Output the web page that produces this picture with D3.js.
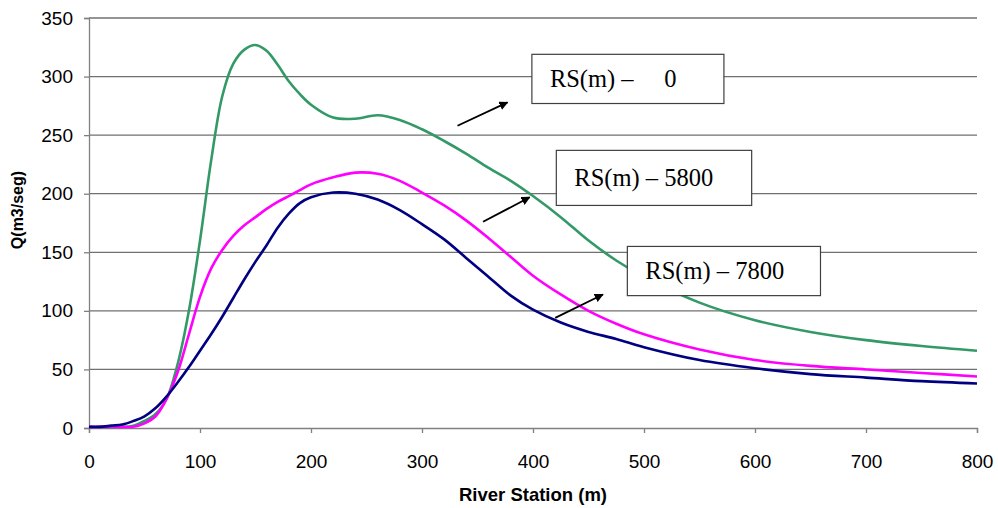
<!DOCTYPE html>
<html>
<head>
<meta charset="utf-8">
<script src="https://cdn.jsdelivr.net/npm/d3@7"></script>
<style>
  body { margin: 0; background: #fff; }
  svg { display: block; }
  .tick text { font-family: Arial, "Liberation Sans", sans-serif; font-size: 19px; fill: #000; }
</style>
</head>
<body>
<svg id="chart" width="998" height="508"></svg>
<script>
// River station (m) sampled along the hydrograph
const stations = [0, 10, 20, 30, 40, 50, 60, 70, 80, 90, 100, 110, 120, 130, 140, 150, 160, 170, 180, 190,
  200, 220, 240, 260, 280, 300, 320, 340, 360, 380, 400, 425, 450, 475, 500, 550, 600, 650, 700, 750, 800];

// Q (m3/seg) for each cross-section
const rs0 = [1, 1, 1, 1, 2, 6, 12, 25, 55, 100, 160, 228, 283, 311, 323, 327, 322, 310, 296, 285,
  276, 265, 264, 267, 263, 255, 245, 234, 222, 211, 198, 180, 160, 143, 129, 107, 92, 82, 75, 70, 66];
const rs5800 = [1, 1, 1, 1, 1, 4, 10, 25, 48, 80, 112, 136, 152, 164, 173, 180, 187, 193, 198, 203,
  208, 214, 218, 217, 211, 201, 190, 177, 162, 146, 130, 114, 100, 89, 80, 67, 58, 53, 50, 47, 44];
const rs7800 = [1, 1, 2, 3, 6, 10, 17, 27, 39, 52, 66, 80, 95, 111, 127, 142, 156, 171, 183, 192,
  197, 201, 200, 195, 186, 174, 161, 145, 129, 113, 101, 90, 82, 76, 69, 58, 51, 46, 43, 40, 38];

const seriesNames = ["RS(m) –     0", "RS(m) – 5800", "RS(m) – 7800"];
const seriesColors = ["#339966", "#ff00ff", "#000080"];
const seriesValues = [rs0, rs5800, rs7800];

// label boxes [x0, x1, yTop, yBottom] in data units
const labelBoxes = [[399, 572, 319, 277], [421, 597, 237, 190], [485, 659, 155, 113]];
// arrows [xFrom, yFrom, xTo, yTo] in data units
const arrows = [[332, 258, 377, 278], [355, 176, 397, 197], [420, 94, 463, 114]];

const xTicks = d3.range(0, 801, 100);
const yTicks = d3.range(0, 351, 50);

const margin = { left: 89, right: 21, top: 18, bottom: 80 };
const svg = d3.select("#chart");
const W = 998, H = 508;
const x = d3.scaleLinear().domain([0, 800]).range([margin.left, W - margin.right]);
const y = d3.scaleLinear().domain([0, 350]).range([H - margin.bottom, margin.top]);

// gridlines
svg.append("g")
  .selectAll("line")
  .data(yTicks.filter(d => d > 0))
  .join("line")
  .attr("x1", x(0)).attr("x2", x(800))
  .attr("y1", d => y(d)).attr("y2", d => y(d))
  .attr("stroke", "#707070")
  .attr("stroke-width", 1.3);

// axes
const yAxis = svg.append("g")
  .attr("transform", `translate(${x(0)},0)`)
  .call(d3.axisLeft(y).tickValues(yTicks).tickSize(5).tickPadding(11));
const xAxis = svg.append("g")
  .attr("transform", `translate(0,${y(0)})`)
  .call(d3.axisBottom(x).tickValues(xTicks).tickSize(5).tickPadding(22));
[yAxis, xAxis].forEach(g => {
  g.select(".domain").attr("stroke", "#808080").attr("stroke-width", 1.3);
  g.selectAll(".tick line").attr("stroke", "#808080").attr("stroke-width", 1.3);
});

// series lines
const line = d3.line()
  .x((d, i) => x(stations[i]))
  .y(d => y(d))
  .curve(d3.curveCatmullRom.alpha(0.5));

svg.append("g")
  .selectAll("path")
  .data(seriesValues)
  .join("path")
  .attr("d", d => line(d))
  .attr("fill", "none")
  .attr("stroke", (d, i) => seriesColors[i])
  .attr("stroke-width", 2.6)
  .attr("stroke-linejoin", "round");

// axis titles
svg.append("text")
  .attr("x", (x(0) + x(800)) / 2)
  .attr("y", 501)
  .attr("text-anchor", "middle")
  .attr("font-family", "Arial, 'Liberation Sans', sans-serif")
  .attr("font-weight", "bold")
  .attr("font-size", 18.5)
  .text("River Station (m)");

svg.append("text")
  .attr("transform", `translate(23,${(y(0) + y(350)) / 2 - 13}) rotate(-90)`)
  .attr("text-anchor", "middle")
  .attr("font-family", "Arial, 'Liberation Sans', sans-serif")
  .attr("font-weight", "bold")
  .attr("font-size", 16)
  .text("Q(m3/seg)");

// arrow head
svg.append("defs").append("marker")
  .attr("id", "head")
  .attr("viewBox", "0 0 10 10")
  .attr("refX", 9).attr("refY", 5)
  .attr("markerWidth", 9).attr("markerHeight", 9)
  .attr("markerUnits", "userSpaceOnUse")
  .attr("orient", "auto")
  .append("path")
  .attr("d", "M0,0 L10,5 L0,10 z")
  .attr("fill", "#000");

svg.append("g")
  .selectAll("line")
  .data(arrows)
  .join("line")
  .attr("x1", d => x(d[0])).attr("y1", d => y(d[1]))
  .attr("x2", d => x(d[2])).attr("y2", d => y(d[3]))
  .attr("stroke", "#000")
  .attr("stroke-width", 1.8)
  .attr("marker-end", "url(#head)");

// label boxes
const boxes = svg.append("g")
  .selectAll("g")
  .data(labelBoxes)
  .join("g");
boxes.append("rect")
  .attr("x", d => x(d[0]))
  .attr("y", d => y(d[2]))
  .attr("width", d => x(d[1]) - x(d[0]))
  .attr("height", d => y(d[3]) - y(d[2]))
  .attr("fill", "#fff")
  .attr("stroke", "#404040")
  .attr("stroke-width", 1.2);
boxes.append("text")
  .attr("x", d => x(d[0]) + 18)
  .attr("y", d => (y(d[2]) + y(d[3])) / 2 + 8)
  .attr("font-family", "'Liberation Serif', 'Times New Roman', serif")
  .attr("font-size", 24.5)
  .attr("xml:space", "preserve")
  .style("white-space", "pre")
  .text((d, i) => seriesNames[i]);
</script>
</body>
</html>
